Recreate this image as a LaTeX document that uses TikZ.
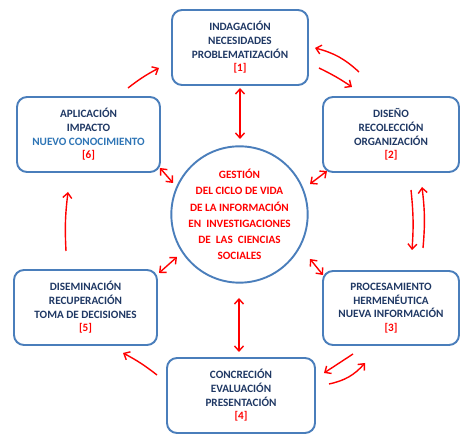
\documentclass[tikz,border=0pt]{standalone}
\usepackage{fontspec}
\setmainfont{Carlito}
\usetikzlibrary{arrows.meta,calc}
\definecolor{boxline}{HTML}{4A7EBB}
\definecolor{navy}{HTML}{1F3864}
\definecolor{lblue}{HTML}{2E75B6}
\definecolor{ared}{HTML}{FF0000}
\begin{document}
\begin{tikzpicture}[x=1pt,y=1pt,
  stagebox/.style={draw=boxline,line width=1.9pt,rounded corners=10pt,fill=white,
    minimum height=75pt,align=center,text=navy,font=\bfseries\fontsize{11.2}{13.6}\selectfont,inner sep=2pt},
  hub/.style={circle,draw=boxline,line width=1.9pt,minimum size=134pt,align=center,
    text=ared,font=\bfseries\fontsize{11.2}{16.2}\selectfont,inner sep=0pt},
  cyc/.style={draw=ared,line width=1.4pt,-{Straight Barb[length=5pt,width=9pt]}},
  dbl/.style={draw=ared,line width=1.4pt,{Straight Barb[length=5pt,width=9pt]}-{Straight Barb[length=5pt,width=9pt]}}]
\useasboundingbox (0,0) rectangle (474,446);
\fill[white] (0,0) rectangle (474,446);

\node[stagebox,minimum width=136pt] (b1) at (240,398.5) {INDAGACIÓN\\NECESIDADES\\PROBLEMATIZACIÓN\\\textcolor{ared}{[1]}};
\node[stagebox,minimum width=136pt] (b2) at (391,311.5) {DISEÑO\\RECOLECCIÓN\\ORGANIZACIÓN\\\textcolor{ared}{[2]}};
\node[stagebox,minimum width=136pt,minimum height=74pt] (b3) at (391,138) {PROCESAMIENTO\\HERMENÉUTICA\\NUEVA INFORMACIÓN\\\textcolor{ared}{[3]}};
\node[stagebox,minimum width=148pt] (b4) at (241,50.5) {CONCRECIÓN\\EVALUACIÓN\\PRESENTACIÓN\\\textcolor{ared}{[4]}};
\node[stagebox,minimum width=143pt] (b5) at (85.5,138.5) {DISEMINACIÓN\\RECUPERACIÓN\\TOMA DE DECISIONES\\\textcolor{ared}{[5]}};
\node[stagebox,minimum width=143pt] (b6) at (88.5,311.5) {APLICACIÓN\\IMPACTO\\\textcolor{lblue}{NUEVO CONOCIMIENTO}\\\textcolor{ared}{[6]}};
\node[hub] (c) at (239.5,231.5) {GESTIÓN\\DEL CICLO DE VIDA\\DE LA INFORMACIÓN\\EN\ \ INVESTIGACIONES\\DE\ \ LAS\ \ CIENCIAS\\SOCIALES};

% double arrows to the hub
\draw[dbl] ($(b1)+(0,-40.5)$) -- ($(c)+(0.5,75.5)$);
\draw[dbl] ($(b4)+(-2,43.5)$) -- ($(c)+(-0.5,-83.5)$);
\draw[dbl] ($(b6)+(71.5,-33.5)$) -- ($(c)+(-66.5,31.5)$);
\draw[dbl] ($(b2)+(-64,-36.5)$) -- ($(c)+(70.5,30.5)$);
\draw[dbl] ($(b5)+(73.5,34.5)$) -- ($(c)+(-62.5,-42.5)$);
\draw[dbl] ($(b3)+(-68,33)$) -- ($(c)+(70.5,-44.5)$);

% cycle arrows
\draw[cyc] ($(b6)+(39.5,46.5)$) to[bend left=5] ($(b1)+(-81,-20.5)$);
\draw[cyc] ($(b1)+(79,-20.5)$) to[bend left=4] ($(b2)+(-39,47.5)$);
\draw[cyc] ($(b2)+(-32,62.5)$) to[bend right=14] ($(b1)+(75,-0.5)$);
\draw[cyc] ($(b2)+(20,-55.5)$) to[bend left=5] ($(b3)+(21,58)$);
\draw[cyc] ($(b3)+(32,60)$) to[bend right=6] ($(b2)+(31,-52.5)$);
\draw[cyc] ($(b3)+(-38,-46)$) -- ($(b4)+(83,22.5)$);
\draw[cyc] ($(b4)+(88,11.5)$) to[bend right=18] ($(b3)+(-26,-55)$);
\draw[cyc] ($(b4)+(-84,20.5)$) to[bend right=5] ($(b5)+(37.5,-45.5)$);
\draw[cyc] ($(b5)+(-19.5,56.5)$) to[bend left=5] ($(b6)+(-20.5,-57.5)$);
\end{tikzpicture}
\end{document}
